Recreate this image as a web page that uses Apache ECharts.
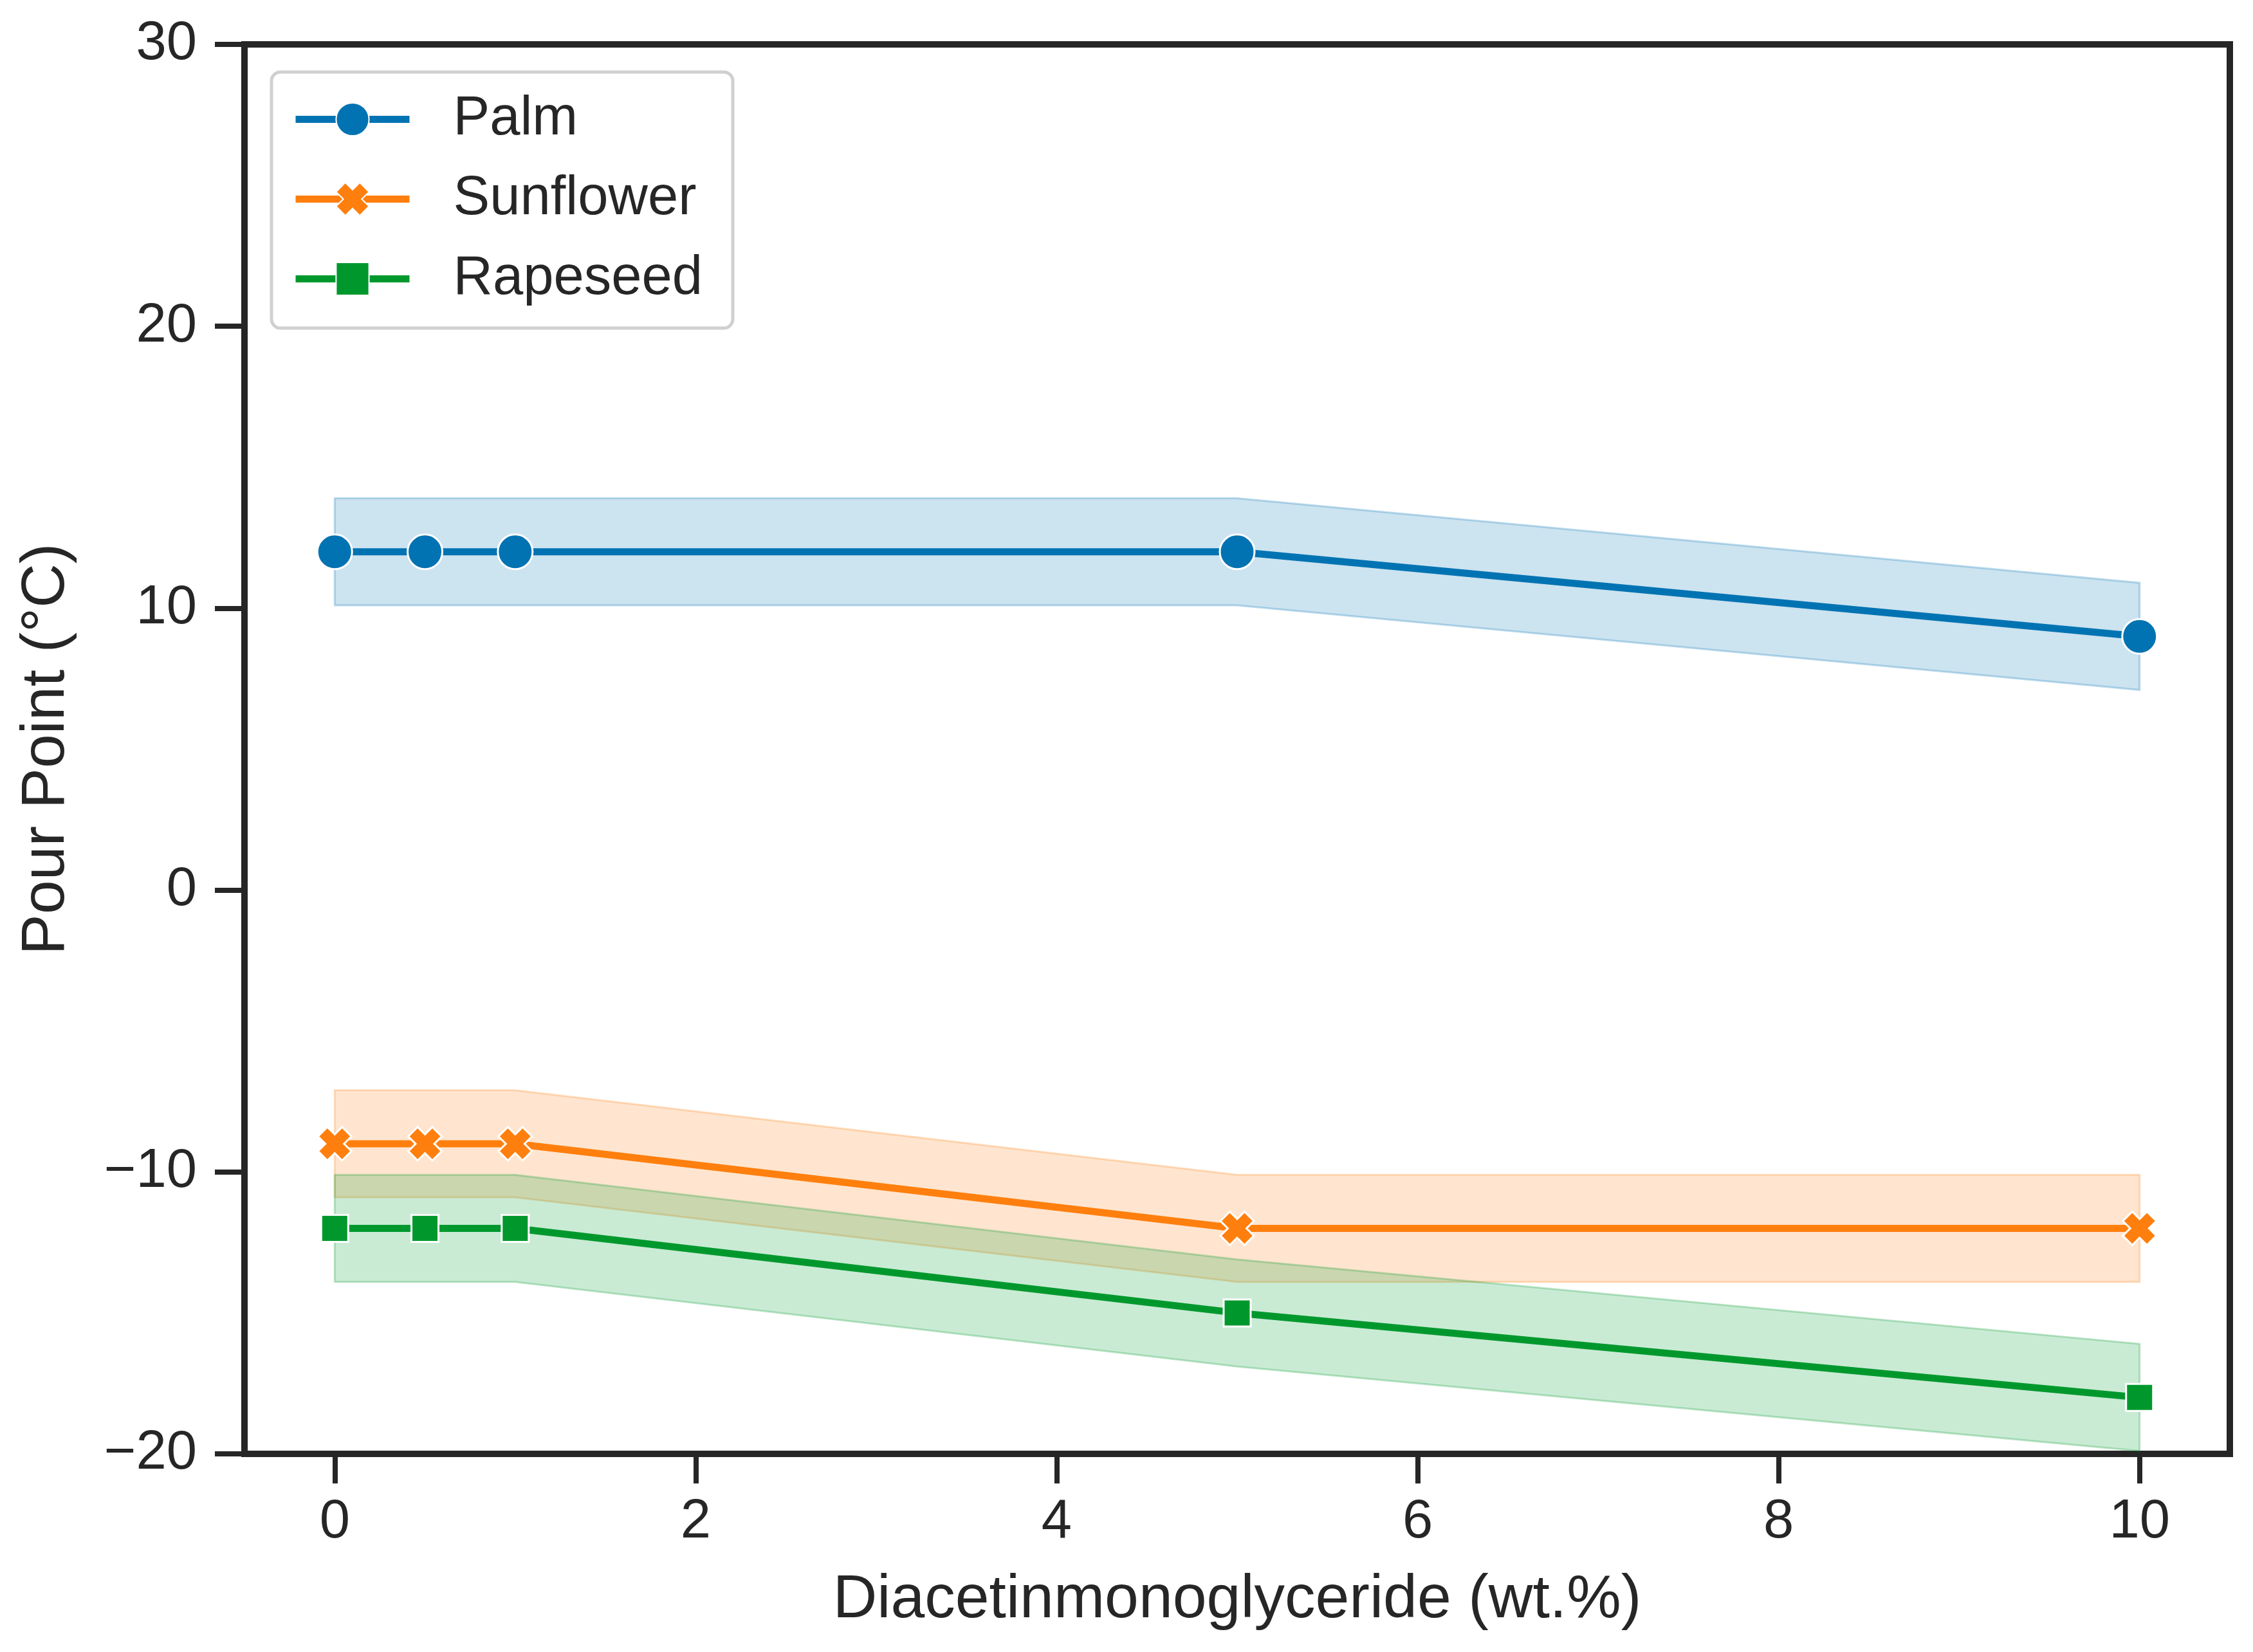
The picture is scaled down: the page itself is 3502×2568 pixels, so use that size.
<!DOCTYPE html>
<html>
<head>
<meta charset="utf-8">
<script src="https://cdn.jsdelivr.net/npm/echarts@6/dist/echarts.min.js"></script>
<style>
html,body{margin:0;padding:0;background:#fff;}
#chart{width:3502px;height:2568px;}
</style>
</head>
<body>
<div id="chart"></div>
<script>
const xValues = [0, 0.5, 1, 5, 10];
const xTicks = [0, 2, 4, 6, 8, 10];
const yTicks = [-20, -10, 0, 10, 20, 30];

const palm = [12, 12, 12, 12, 9];
const palmLow = [10.1, 10.1, 10.1, 10.1, 7.1];
const palmHigh = [13.9, 13.9, 13.9, 13.9, 10.9];

const sunflower = [-9, -9, -9, -12, -12];
const sunflowerLow = [-10.9, -10.9, -10.9, -13.9, -13.9];
const sunflowerHigh = [-7.1, -7.1, -7.1, -10.1, -10.1];

const rapeseed = [-12, -12, -12, -15, -18];
const rapeseedLow = [-13.9, -13.9, -13.9, -16.9, -19.9];
const rapeseedHigh = [-10.1, -10.1, -10.1, -13.1, -16.1];

const FONT = '"Liberation Sans", Arial, sans-serif';
const TEXT = '#262626';
const X_PATH = 'path://M0,2.8 L2.8,0 L5,2.2 L7.2,0 L10,2.8 L7.8,5 L10,7.2 L7.2,10 L5,7.8 L2.8,10 L0,7.2 L2.2,5 Z';

const groups = [
  {name: 'Palm', color: '#0173b2', fill: 'rgba(1,115,178,0.2)', edge: 'rgba(1,115,178,0.25)', mean: palm, lo: palmLow, hi: palmHigh, symbol: 'circle', size: 54},
  {name: 'Sunflower', color: '#ff7f0e', fill: 'rgba(255,127,14,0.2)', edge: 'rgba(255,127,14,0.25)', mean: sunflower, lo: sunflowerLow, hi: sunflowerHigh, symbol: X_PATH, size: 52},
  {name: 'Rapeseed', color: '#00982d', fill: 'rgba(0,160,50,0.21)', edge: 'rgba(0,150,45,0.25)', mean: rapeseed, lo: rapeseedLow, hi: rapeseedHigh, symbol: 'rect', size: 42}
];

const series = [];
groups.forEach(g => {
  series.push({
    name: g.name + ' CI', type: 'custom', silent: true, z: 1,
    data: xValues.map((x, i) => [x, g.lo[i], g.hi[i]]),
    encode: {x: 0, y: [1, 2]},
    renderItem: function (params, api) {
      if (params.dataIndex !== 0) return null;
      const pts = [];
      for (let i = 0; i < xValues.length; i++) pts.push(api.coord([xValues[i], g.hi[i]]));
      for (let i = xValues.length - 1; i >= 0; i--) pts.push(api.coord([xValues[i], g.lo[i]]));
      return {type: 'polygon', shape: {points: pts}, style: {fill: g.fill, stroke: g.edge, lineWidth: 3}};
    }
  });
});
groups.forEach(g => {
  series.push({
    name: g.name, type: 'line', z: 3,
    data: xValues.map((x, i) => [x, g.mean[i]]),
    symbol: g.symbol, symbolSize: g.size,
    lineStyle: {color: g.color, width: 11},
    itemStyle: {color: g.color, borderColor: '#fff', borderWidth: 3},
    emphasis: {disabled: true}
  });
});

const chart = echarts.init(document.getElementById('chart'), null, {renderer: 'canvas'});
chart.setOption({
  animation: false,
  backgroundColor: '#fff',
  textStyle: {fontFamily: FONT, color: TEXT},
  grid: {left: 380, right: 36, top: 69, bottom: 308, show: true, borderColor: TEXT, borderWidth: 10, backgroundColor: 'transparent'},
  legend: {
    data: ['Palm', 'Sunflower', 'Rapeseed'],
    orient: 'vertical', left: 422, top: 112,
    itemWidth: 177, itemHeight: 64, itemGap: 39,
    padding: [31, 47, 34, 32],
    borderColor: '#d0d0d0', borderWidth: 5, borderRadius: 14, backgroundColor: '#fff',
    lineStyle: {width: 11},
    textStyle: {fontFamily: FONT, fontSize: 85, color: TEXT, padding: [0, 0, 0, 63]}
  },
  xAxis: {
    type: 'value', min: -0.5, max: 10.5,
    name: 'Diacetinmonoglyceride (wt.%)', nameLocation: 'middle', nameGap: 180,
    nameTextStyle: {fontFamily: FONT, fontSize: 95, color: TEXT},
    axisLine: {show: true, onZero: false, lineStyle: {color: TEXT, width: 10}},
    axisTick: {show: true, length: 46, lineStyle: {color: TEXT, width: 8}, customValues: xTicks},
    axisLabel: {fontFamily: FONT, fontSize: 85, color: TEXT, margin: 64, customValues: xTicks},
    splitLine: {show: false}
  },
  yAxis: {
    type: 'value', min: -20, max: 30, interval: 10,
    name: 'Pour Point (°C)', nameLocation: 'middle', nameGap: 260, nameRotate: 90,
    nameTextStyle: {fontFamily: FONT, fontSize: 95, color: TEXT},
    axisLine: {show: true, onZero: false, lineStyle: {color: TEXT, width: 10}},
    axisTick: {show: true, length: 46, lineStyle: {color: TEXT, width: 8}},
    axisLabel: {fontFamily: FONT, fontSize: 85, color: TEXT, margin: 74, formatter: v => (v < 0 ? '\u2212' + Math.abs(v) : String(v))},
    splitLine: {show: false}
  },
  series: series
});
</script>
</body>
</html>
